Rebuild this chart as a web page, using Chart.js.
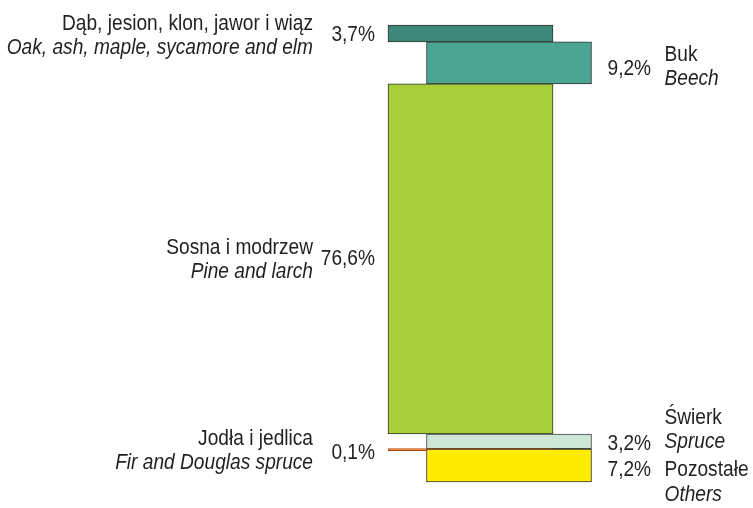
<!DOCTYPE html>
<html>
<head>
<meta charset="utf-8">
<script src="https://cdn.jsdelivr.net/npm/chart.js@4"></script>
<style>
  html, body { margin: 0; padding: 0; background: #fff; }
  #wrap { width: 753px; height: 508px; }
</style>
</head>
<body>
<div id="wrap"><canvas id="chart" width="753" height="508"></canvas></div>
<script>
// species shares, top to bottom
const namesPl = ['Dąb, jesion, klon, jawor i wiąz', 'Buk', 'Sosna i modrzew', 'Świerk', 'Jodła i jedlica', 'Pozostałe'];
const namesEn = ['Oak, ash, maple, sycamore and elm', 'Beech', 'Pine and larch', 'Spruce', 'Fir and Douglas spruce', 'Others'];
const shares = [3.7, 9.2, 76.6, 3.2, 0.1, 7.2];
const column = [0, 1, 0, 1, 0, 1]; // 0 = left block, labels left; 1 = right block, labels right

const colors = ['#3d8878', '#4ca593', '#a8cf3a', '#cde6d6', '#e8731e', '#ffed00'];
const borders = ['#333', '#333', '#333', '#444', '#b34a10', '#333'];
// label offsets from block centre (first text line, percent)
const nameDy = [-9, -8, -11, -23, -11, 5];
const pctDy = [2, 6, 0.5, 3, 3.5, 5];

// floating ranges from cumulative sums
let acc = 0;
const ranges = shares.map(v => { const r = [acc, acc + v]; acc += v; return r; });

const fmt = v => v.toFixed(1).replace('.', ',') + '%';

const SX = 0.89; // condensed look
function txt(ctx, s, x, y, italic) {
  ctx.save();
  ctx.translate(x, y);
  ctx.scale(SX, 1);
  ctx.font = (italic ? 'italic ' : '') + '21.5px "Liberation Sans", Arial, sans-serif';
  ctx.fillText(s, 0, 0);
  ctx.restore();
}

const labelPlugin = {
  id: 'labels',
  afterDatasetsDraw(chart) {
    const ctx = chart.ctx;
    const meta = chart.getDatasetMeta(0);
    ctx.save();
    ctx.fillStyle = '#231f20';
    ctx.textBaseline = 'middle';
    meta.data.forEach((bar, i) => {
      const p = bar.getProps(['x', 'y', 'base', 'width'], true);
      const cy = (p.y + p.base) / 2;
      const left = p.x - p.width / 2;
      const right = p.x + p.width / 2;
      const y1 = cy + nameDy[i];
      if (column[i] === 0) {
        ctx.textAlign = 'right';
        txt(ctx, fmt(shares[i]), left - 13, cy + pctDy[i]);
        txt(ctx, namesPl[i], left - 75, y1);
        txt(ctx, namesEn[i], left - 75, y1 + 24, true);
      } else {
        ctx.textAlign = 'left';
        txt(ctx, fmt(shares[i]), right + 16, cy + pctDy[i]);
        txt(ctx, namesPl[i], right + 73, y1);
        txt(ctx, namesEn[i], right + 73, y1 + 24, true);
      }
    });
    ctx.restore();
  }
};

new Chart(document.getElementById('chart'), {
  type: 'bar',
  data: {
    datasets: [{
      data: ranges.map((r, i) => ({ x: column[i], y: r })),
      backgroundColor: colors,
      borderColor: borders,
      borderWidth: 1,
      borderSkipped: false,
      barThickness: 165,
      minBarLength: 2,
      clip: false
    }]
  },
  options: {
    responsive: false,
    animation: false,
    layout: { padding: { top: 25, bottom: 26, left: 393.5, right: 167 } },
    scales: {
      x: { type: 'linear', min: -2, max: 3, offset: false, display: false },
      y: { type: 'linear', min: 0, max: 100, reverse: true, display: false }
    },
    plugins: { legend: { display: false }, tooltip: { enabled: false } }
  },
  plugins: [labelPlugin]
});
</script>
</body>
</html>
